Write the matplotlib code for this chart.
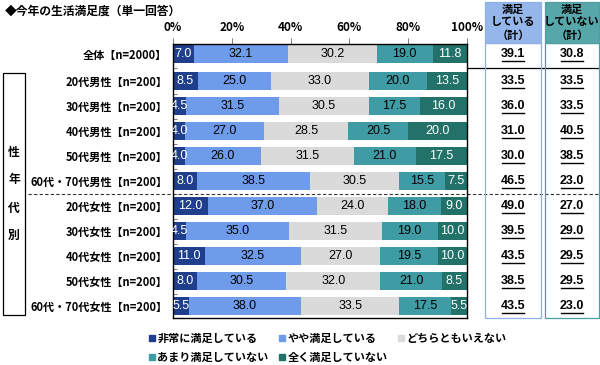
import numpy as np
import matplotlib
matplotlib.use('Agg')
import matplotlib.pyplot as plt
from matplotlib.patches import Rectangle
from matplotlib.lines import Line2D
from matplotlib.transforms import blended_transform_factory

plt.rcParams['font.family'] = ['Noto Sans CJK JP', 'DejaVu Sans']  # 日本語表示用

# データ
groups = ['全体【n=2000】',
          '20代男性【n=200】', '30代男性【n=200】', '40代男性【n=200】',
          '50代男性【n=200】', '60代・70代男性【n=200】',
          '20代女性【n=200】', '30代女性【n=200】', '40代女性【n=200】',
          '50代女性【n=200】', '60代・70代女性【n=200】']
categories = ['非常に満足している', 'やや満足している', 'どちらともいえない',
              'あまり満足していない', '全く満足していない']
very_satisfied = [7.0, 8.5, 4.5, 4.0, 4.0, 8.0, 12.0, 4.5, 11.0, 8.0, 5.5]
somewhat_satisfied = [32.1, 25.0, 31.5, 27.0, 26.0, 38.5, 37.0, 35.0, 32.5, 30.5, 38.0]
neutral = [30.2, 33.0, 30.5, 28.5, 31.5, 30.5, 24.0, 31.5, 27.0, 32.0, 33.5]
not_very = [19.0, 20.0, 17.5, 20.5, 21.0, 15.5, 18.0, 19.0, 19.5, 21.0, 17.5]
not_at_all = [11.8, 13.5, 16.0, 20.0, 17.5, 7.5, 9.0, 10.0, 10.0, 8.5, 5.5]
satisfied_total = ['39.1', '33.5', '36.0', '31.0', '30.0', '46.5', '49.0', '39.5', '43.5', '38.5', '43.5']
unsatisfied_total = ['30.8', '33.5', '33.5', '40.5', '38.5', '23.0', '27.0', '29.0', '29.5', '29.5', '23.0']
x_ticks = [0, 20, 40, 60, 80, 100]

series = [very_satisfied, somewhat_satisfied, neutral, not_very, not_at_all]
colors = ['#1f3f8c', '#6e9ceb', '#dadada', '#3f9ca4', '#22726a']
text_colors = ['white', 'black', 'black', 'black', 'white']

W, H = 600, 365
fx = lambda px: px / W
fy = lambda py: 1 - py / H

fig = plt.figure(figsize=(6, 3.65), dpi=100)
ax = fig.add_axes([fx(173), fy(318), fx(467) - fx(173), fy(44) - fy(318)])

# 行の位置（全体の下に少し隙間）
pos = np.array([0.0] + [1.08 + i for i in range(len(groups) - 1)])

left = np.zeros(len(groups))
for vals, c, tc in zip(series, colors, text_colors):
    vals = np.array(vals)
    ax.barh(pos, vals, left=left, height=0.7, color=c, edgecolor='none')
    for y, l, v in zip(pos, left, vals):
        ax.text(l + v / 2, y, '%.1f' % v, ha='center', va='center', fontsize=9,
                color=tc, family=['Liberation Sans', 'DejaVu Sans'])
    left += vals

ax.set_xlim(0, 100)
ax.set_ylim(pos[-1] + 0.48, -0.4)
ax.set_yticks(pos)
ax.set_yticklabels(groups, fontsize=8, fontweight='bold')
ax.set_yticks((pos[:-1] + pos[1:]) / 2, minor=True)
ax.tick_params(axis='y', which='major', length=0, pad=4)
ax.tick_params(axis='y', which='minor', length=3, direction='in', width=0.6, color='#666666')
ax.xaxis.tick_top()
ax.set_xticks(x_ticks)
ax.set_xticklabels(['%d%%' % t for t in x_ticks], fontsize=8.5, fontweight='bold')
ax.tick_params(axis='x', length=4, width=0.6, color='#666666', pad=3)
for s in ax.spines.values():
    s.set_linewidth(1.0)
    s.set_color('black')

# タイトル
fig.text(fx(5), fy(11), '◆今年の生活満足度（単一回答）', fontsize=8.5, fontweight='bold',
         ha='left', va='center')

tr = blended_transform_factory(fig.transFigure, ax.transData)
# 全体の下の実線（右側）
ax.add_line(Line2D([fx(467), fx(600)], [(pos[0] + pos[1]) / 2] * 2, transform=tr,
                   color='black', lw=0.9, clip_on=False))
# 男女の間の点線
ax.add_line(Line2D([fx(28), fx(600)], [(pos[5] + pos[6]) / 2] * 2, transform=tr,
                   color='#333333', lw=0.8, linestyle=(0, (3, 2)), clip_on=False))

# 左の「性年代別」ボックス
fig.add_artist(Rectangle((fx(3), fy(315)), fx(25) - fx(3), fy(73) - fy(315),
                         transform=fig.transFigure, fill=False, edgecolor='black', lw=0.9))
for ch, py in zip('性年代別', [153, 179, 208, 235]):
    fig.text(fx(14), fy(py), ch, fontsize=8.5, fontweight='bold', ha='center', va='center')

# 右側の合計ボックス
boxes = [(485, 541, '#95b6ea', '#8fb0e6', '満足\nしている\n（計）', satisfied_total),
         (545, 599, '#57a7aa', '#4f9ea2', '満足\nしていない\n（計）', unsatisfied_total)]
for x0, x1, fc, ec, head, vals in boxes:
    fig.add_artist(Rectangle((fx(x0), fy(43)), fx(x1) - fx(x0), fy(2) - fy(43),
                             transform=fig.transFigure, facecolor=fc, edgecolor=ec, lw=0.9))
    fig.add_artist(Rectangle((fx(x0), fy(318)), fx(x1) - fx(x0), fy(43) - fy(318),
                             transform=fig.transFigure, fill=False, edgecolor=ec, lw=0.9))
    xc = fx((x0 + x1) / 2)
    fig.text(xc, fy(22), head, fontsize=8, fontweight='bold', ha='center', va='center',
             linespacing=1.0)
    for y, v in zip(pos, vals):
        ax.text(xc, y, v, transform=tr, ha='center', va='center', fontsize=9,
                fontweight='bold', family=['Liberation Sans', 'DejaVu Sans'])
        # 下線
        ax.add_line(Line2D([xc - fx(11), xc + fx(11)], [y + 0.27, y + 0.27], transform=tr,
                           color='black', lw=1.0, clip_on=False, zorder=10))

# 凡例
handles = [Line2D([], [], marker='s', linestyle='none', markersize=4.5,
                  markerfacecolor=c, markeredgecolor=c) for c in colors]
order = [0, 3, 1, 4, 2]
fig.legend([handles[i] for i in order], [categories[i] for i in order], ncol=3,
           loc='center left', bbox_to_anchor=(fx(143), fy(348)), frameon=False,
           prop={'size': 8, 'weight': 'bold'}, handlelength=0.6, handletextpad=0.2,
           columnspacing=0.9, labelspacing=0.55, borderpad=0)

plt.savefig('out.png', dpi=100)
